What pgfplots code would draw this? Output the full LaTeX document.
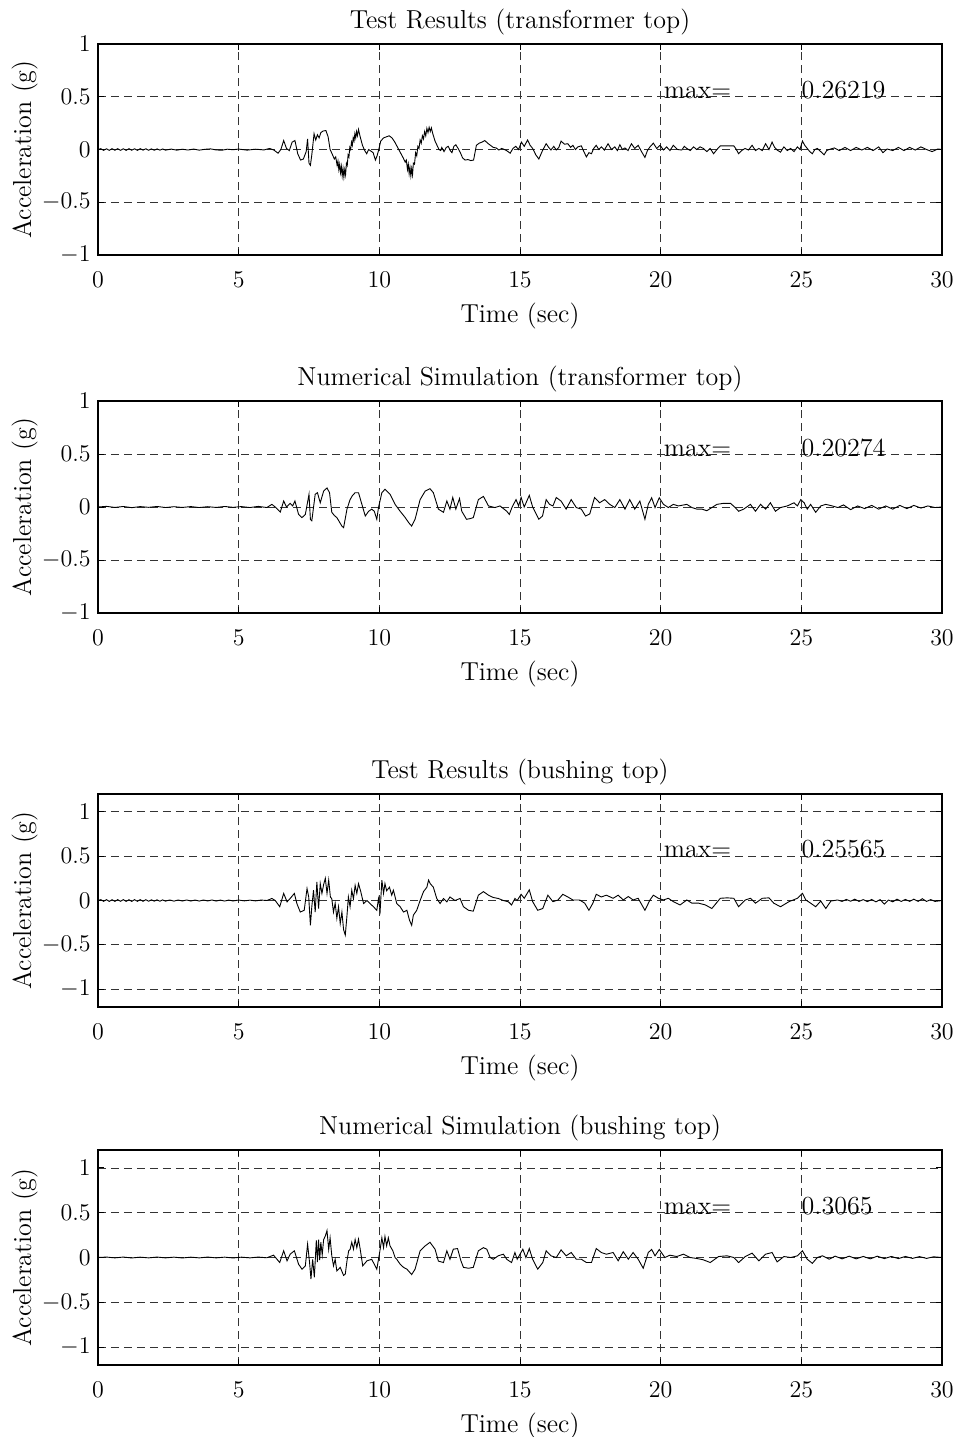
\documentclass[border=0pt]{standalone}
\usepackage{pgfplots}
\pgfplotsset{compat=1.18}
\newcommand{\tf}{\fontsize{13}{15}\selectfont}
\pgfplotsset{
  panel/.style={
    anchor=north west,
    scale only axis,
    width=422pt,
    xmin=0, xmax=30,
    xtick={0,5,10,15,20,25,30},
    ytick={-1,-0.5,0,0.5,1},
    grid=major,
    major grid style={black!80, line width=0.4pt, dash pattern=on 4pt off 2.5pt},
    axis line style={line width=0.7pt},
    tick align=inside,
    major tick length=3pt,
    tick style={black, line width=0.5pt},
    tick label style={font=\tf},
    xticklabel style={anchor=base, yshift=-16pt},
    yticklabel style={anchor=east, inner sep=0pt, xshift=-3.5pt},
    title style={font=\tf, at={(axis description cs:0.5,1)}, anchor=base, yshift=2pt},
    xlabel={Time (sec)},
    ylabel={Acceleration (g)},
    xlabel style={font=\tf, at={(axis description cs:0.5,0)}, anchor=base, yshift=-33.5pt},
    ylabel style={font=\tf, at={(axis description cs:-0.087,0.5)}, anchor=center},
  },
  sig/.style={black, line width=0.45pt, mark=none},
}
\pgfplotstableread{
t a
0.00 0.000
0.10 0.008
0.20 -0.008
0.30 0.007
0.40 -0.008
0.50 0.008
0.60 -0.007
0.70 0.008
0.80 -0.008
0.90 0.007
1.00 -0.008
1.10 0.008
1.20 -0.007
1.30 0.007
1.40 -0.008
1.50 0.008
1.60 -0.006
1.70 0.007
1.80 -0.007
1.90 0.006
2.00 -0.007
2.10 0.006
2.20 -0.006
2.30 0.005
2.40 -0.006
2.60 0.004
2.80 -0.006
3.00 0.003
3.20 -0.005
3.40 0.004
3.60 -0.006
3.80 0.002
4.00 0.006
4.20 -0.004
4.40 -0.007
4.60 0.003
4.80 -0.002
5.00 0.004
5.30 -0.006
5.60 0.003
5.90 -0.004
6.10 0.010
6.25 -0.005
6.40 -0.035
6.50 0.000
6.60 0.085
6.70 0.010
6.80 -0.010
6.90 0.070
7.00 0.085
7.10 -0.040
7.20 -0.100
7.30 -0.090
7.40 -0.020
7.45 0.100
7.50 -0.130
7.55 -0.150
7.60 -0.050
7.68 0.150
7.74 0.090
7.80 0.140
7.86 0.110
7.92 0.160
8.00 0.175
8.10 0.180
8.18 0.120
8.25 0.000
8.32 -0.040
8.40 -0.090
8.45 -0.070
8.50 -0.150
8.53 -0.110
8.56 -0.190
8.59 -0.140
8.62 -0.220
8.65 -0.160
8.68 -0.250
8.71 -0.180
8.74 -0.262
8.77 -0.190
8.80 -0.240
8.83 -0.130
8.86 -0.150
8.89 -0.050
8.92 -0.070
8.95 0.020
8.98 0.000
9.01 0.070
9.04 0.040
9.07 0.110
9.10 0.080
9.13 0.150
9.16 0.110
9.19 0.170
9.22 0.130
9.26 0.190
9.32 0.120
9.40 0.040
9.48 -0.010
9.55 -0.040
9.62 0.000
9.70 -0.015
9.78 -0.030
9.86 -0.100
9.92 -0.060
9.98 0.000
10.05 0.080
10.15 0.110
10.25 0.120
10.35 0.130
10.45 0.110
10.55 0.070
10.65 0.020
10.75 -0.030
10.85 -0.080
10.92 -0.120
10.96 -0.100
11.00 -0.190
11.03 -0.140
11.06 -0.230
11.09 -0.170
11.12 -0.250
11.15 -0.180
11.18 -0.240
11.21 -0.130
11.25 -0.140
11.29 -0.030
11.33 -0.060
11.37 0.030
11.41 0.010
11.45 0.090
11.49 0.060
11.53 0.130
11.57 0.100
11.61 0.170
11.65 0.130
11.69 0.200
11.73 0.160
11.77 0.210
11.81 0.170
11.85 0.205
11.90 0.150
11.98 0.080
12.05 0.040
12.12 0.000
12.18 -0.010
12.22 0.020
12.30 -0.020
12.38 0.020
12.45 0.030
12.52 -0.010
12.58 -0.030
12.65 0.030
12.72 0.045
12.80 0.010
12.88 -0.030
12.96 -0.080
13.05 -0.100
13.15 -0.095
13.25 -0.105
13.35 -0.100
13.45 0.040
13.55 0.060
13.65 0.070
13.75 0.085
13.85 0.060
13.95 0.040
14.05 0.020
14.15 0.015
14.25 -0.005
14.35 0.010
14.45 0.000
14.55 -0.015
14.65 -0.035
14.75 0.010
14.85 0.030
14.95 0.000
15.05 0.070
15.15 0.030
15.27 0.090
15.36 0.040
15.45 0.010
15.56 -0.050
15.67 -0.090
15.80 -0.010
15.93 0.055
16.02 0.020
16.10 -0.005
16.20 0.030
16.29 -0.005
16.38 0.020
16.46 0.080
16.58 0.050
16.70 0.055
16.80 0.020
16.88 0.040
16.97 0.000
17.06 0.025
17.18 0.035
17.27 -0.020
17.36 -0.070
17.45 -0.030
17.54 -0.040
17.62 0.010
17.71 0.040
17.80 0.000
17.89 0.025
18.00 -0.005
18.13 0.055
18.25 0.000
18.37 0.025
18.46 -0.010
18.55 0.045
18.64 0.000
18.73 0.015
18.84 -0.010
18.96 0.055
19.08 0.010
19.20 0.040
19.32 -0.020
19.44 -0.075
19.53 -0.010
19.62 0.025
19.74 0.060
19.86 0.010
19.98 0.040
20.10 -0.005
20.21 0.025
20.33 -0.010
20.45 0.040
20.60 0.000
20.75 -0.005
20.84 0.030
20.93 0.010
21.05 -0.010
21.17 0.025
21.28 0.000
21.40 0.025
21.52 0.010
21.64 -0.020
21.76 0.010
21.88 -0.040
22.00 0.000
22.12 0.035
22.36 0.035
22.60 0.035
22.69 0.000
22.77 -0.040
22.88 -0.010
23.00 0.010
23.12 -0.005
23.25 0.040
23.37 -0.010
23.49 0.010
23.61 -0.010
23.73 0.055
23.85 0.000
23.96 0.070
24.05 0.020
24.14 -0.005
24.26 -0.025
24.38 0.025
24.50 -0.010
24.62 0.010
24.74 -0.020
24.86 0.025
24.95 0.000
25.04 0.080
25.12 0.040
25.21 0.010
25.30 -0.020
25.39 -0.040
25.48 0.000
25.57 0.010
25.69 -0.020
25.81 -0.050
25.90 -0.010
25.99 0.000
26.17 0.015
26.35 -0.010
26.55 0.020
26.75 -0.010
26.95 0.020
27.15 -0.005
27.35 0.020
27.55 -0.010
27.75 0.025
27.90 -0.030
28.05 0.005
28.25 -0.010
28.45 0.020
28.65 -0.010
28.85 0.020
29.05 -0.005
29.25 0.025
29.45 0.000
29.65 -0.020
29.85 0.005
30.00 0.000
}\dataA
\pgfplotstableread{
t a
0.00 0.000
0.30 0.006
0.60 -0.004
0.90 0.005
1.20 -0.006
1.50 0.004
1.80 -0.003
2.10 0.005
2.40 -0.005
2.70 0.003
3.00 -0.004
3.30 0.004
3.60 -0.005
3.90 0.003
4.20 -0.004
4.50 0.005
4.80 -0.003
5.10 0.004
5.40 -0.005
5.70 0.006
6.00 -0.005
6.18 0.025
6.30 0.000
6.48 -0.047
6.60 0.057
6.70 0.000
6.83 0.035
6.92 0.010
7.00 0.057
7.13 -0.070
7.25 -0.100
7.37 -0.070
7.50 0.120
7.55 -0.116
7.60 -0.130
7.72 0.120
7.80 0.135
7.90 0.040
8.02 0.150
8.14 0.180
8.23 0.135
8.31 -0.050
8.40 -0.080
8.49 -0.100
8.58 -0.140
8.67 -0.180
8.73 -0.195
8.85 -0.020
8.96 0.070
9.05 0.110
9.14 0.135
9.26 0.135
9.38 0.025
9.50 -0.085
9.62 -0.040
9.73 -0.020
9.82 -0.040
9.91 -0.116
9.97 -0.005
10.09 0.135
10.20 0.167
10.38 0.120
10.56 0.025
10.74 -0.040
10.92 -0.100
11.05 -0.150
11.15 -0.180
11.27 -0.116
11.45 0.070
11.63 0.150
11.80 0.173
11.92 0.135
12.10 -0.020
12.28 -0.050
12.40 0.057
12.51 -0.020
12.61 0.090
12.72 -0.020
12.85 0.080
12.93 -0.040
13.10 -0.116
13.22 -0.110
13.34 -0.100
13.52 0.070
13.70 0.100
13.88 0.010
14.11 -0.005
14.29 0.010
14.53 -0.040
14.62 -0.070
14.72 0.000
14.86 0.070
14.95 0.010
15.04 0.090
15.15 0.000
15.33 0.110
15.45 0.000
15.67 -0.115
15.80 -0.085
15.93 0.070
16.05 0.025
16.17 0.010
16.29 0.090
16.46 0.056
16.64 -0.020
16.82 0.070
17.00 -0.005
17.18 -0.020
17.33 -0.085
17.48 -0.065
17.65 0.090
17.83 0.040
18.01 0.070
18.19 0.025
18.37 -0.005
18.55 0.070
18.73 -0.020
18.90 0.070
19.08 -0.020
19.26 0.056
19.44 -0.115
19.56 0.025
19.68 0.087
19.80 -0.005
19.95 0.087
20.10 0.025
20.27 -0.005
20.45 0.025
20.63 0.010
20.93 0.025
21.11 -0.005
21.29 -0.020
21.47 -0.020
21.64 -0.035
21.82 -0.005
22.00 0.025
22.24 0.035
22.48 0.035
22.65 -0.005
22.77 -0.040
22.95 -0.020
23.19 0.025
23.37 -0.040
23.55 0.025
23.73 -0.020
23.90 0.040
24.08 -0.040
24.26 -0.005
24.50 0.010
24.74 0.040
24.86 0.010
24.98 0.070
25.10 0.040
25.21 -0.020
25.33 0.025
25.51 -0.050
25.69 0.010
25.87 0.025
26.10 0.010
26.30 -0.005
26.50 0.020
26.75 -0.025
27.00 0.010
27.25 -0.015
27.50 0.015
27.75 -0.020
28.00 0.010
28.25 -0.020
28.50 0.015
28.75 -0.015
29.00 0.015
29.25 -0.010
29.50 0.010
29.75 -0.005
30.00 0.000
}\dataB
\pgfplotstableread{
t a
0.00 0.000
0.10 0.010
0.20 -0.009
0.30 0.010
0.40 -0.010
0.50 0.009
0.60 -0.010
0.70 0.010
0.80 -0.009
0.90 0.010
1.00 -0.010
1.10 0.009
1.20 -0.010
1.30 0.010
1.40 -0.009
1.50 0.010
1.60 -0.009
1.70 0.009
1.80 -0.008
1.90 0.008
2.00 -0.008
2.10 0.008
2.20 -0.008
2.30 0.007
2.40 -0.007
2.55 0.006
2.70 -0.007
2.85 0.006
3.00 -0.006
3.15 0.006
3.30 -0.006
3.45 0.005
3.60 -0.006
3.75 0.006
3.90 -0.005
4.05 0.006
4.20 -0.006
4.35 0.005
4.50 -0.006
4.65 0.005
4.80 -0.005
5.00 0.005
5.20 -0.004
5.40 0.004
5.60 -0.004
5.80 0.005
6.00 0.000
6.10 0.012
6.18 0.023
6.30 0.000
6.46 -0.070
6.60 0.080
6.72 -0.015
6.83 0.023
6.98 0.080
7.07 -0.035
7.19 -0.130
7.33 -0.110
7.43 0.135
7.49 0.040
7.55 -0.280
7.60 -0.070
7.66 0.116
7.72 -0.130
7.78 0.210
7.84 -0.090
7.90 0.190
7.96 0.080
8.02 0.180
8.08 0.250
8.14 0.080
8.20 0.230
8.26 0.040
8.31 0.020
8.37 -0.130
8.43 -0.030
8.49 -0.200
8.55 -0.070
8.61 -0.260
8.67 -0.130
8.73 -0.330
8.79 -0.390
8.85 -0.170
8.90 0.040
8.96 -0.070
9.02 0.116
9.08 0.020
9.14 0.170
9.20 0.080
9.26 0.190
9.34 0.100
9.44 -0.034
9.56 0.000
9.67 -0.034
9.79 -0.070
9.91 -0.110
9.97 0.020
10.03 -0.110
10.09 0.230
10.15 0.080
10.20 0.190
10.26 0.110
10.36 0.150
10.44 0.060
10.50 0.116
10.62 -0.034
10.74 -0.070
10.86 -0.130
10.98 -0.110
11.07 -0.220
11.15 -0.280
11.21 -0.165
11.33 -0.110
11.45 0.000
11.57 0.100
11.69 0.150
11.75 0.230
11.81 0.190
11.92 0.150
12.04 0.023
12.16 -0.034
12.28 0.023
12.40 -0.015
12.51 0.040
12.69 0.000
12.87 0.023
12.99 -0.070
13.17 -0.110
13.34 -0.120
13.52 0.060
13.70 0.100
13.88 0.060
14.05 0.034
14.23 0.023
14.41 0.000
14.59 -0.015
14.70 -0.050
14.82 0.023
14.90 0.000
15.04 0.070
15.15 0.025
15.33 0.120
15.45 -0.013
15.63 -0.110
15.81 -0.090
15.99 0.060
16.17 -0.013
16.35 0.006
16.52 0.070
16.70 0.040
16.88 0.006
17.12 0.006
17.30 -0.030
17.45 -0.110
17.59 -0.030
17.71 0.070
17.89 0.040
18.07 0.060
18.31 0.025
18.49 0.060
18.67 0.006
18.85 0.045
19.02 0.006
19.20 0.025
19.44 -0.110
19.62 0.006
19.74 0.060
19.92 0.025
20.10 0.006
20.27 0.025
20.45 -0.013
20.69 -0.050
20.93 0.006
21.11 -0.030
21.35 -0.030
21.59 -0.050
21.82 -0.090
22.12 0.025
22.36 0.030
22.60 0.025
22.77 -0.070
23.01 0.006
23.19 0.025
23.37 -0.030
23.61 0.025
23.85 0.030
24.02 -0.030
24.26 -0.070
24.56 -0.013
24.86 0.025
25.04 0.080
25.16 0.006
25.33 -0.030
25.51 -0.070
25.69 -0.006
25.87 -0.090
26.05 -0.006
26.29 0.006
26.45 -0.010
26.60 0.012
26.75 -0.008
26.90 0.015
27.05 -0.010
27.20 0.010
27.35 -0.012
27.50 0.012
27.65 -0.015
27.80 0.010
27.95 -0.040
28.10 0.005
28.25 -0.015
28.40 0.015
28.55 -0.010
28.70 0.012
28.85 -0.010
29.00 0.015
29.15 -0.010
29.30 0.020
29.45 -0.010
29.60 0.010
29.75 -0.010
30.00 0.000
}\dataC
\pgfplotstableread{
t a
0.00 0.000
0.30 0.005
0.60 -0.004
0.90 0.005
1.20 -0.005
1.50 0.004
1.80 -0.004
2.10 0.005
2.40 -0.004
2.70 0.004
3.00 -0.005
3.30 0.004
3.60 -0.004
3.90 0.005
4.20 -0.004
4.50 0.004
4.80 -0.005
5.10 0.004
5.40 -0.004
5.70 0.005
6.00 -0.003
6.24 0.026
6.46 -0.056
6.60 0.075
6.72 -0.037
6.83 0.037
6.98 0.075
7.13 -0.075
7.25 -0.130
7.37 -0.093
7.45 0.150
7.52 -0.056
7.57 -0.240
7.63 -0.020
7.69 -0.220
7.76 0.190
7.80 -0.050
7.84 0.200
7.88 -0.030
7.92 0.170
7.97 0.030
8.02 0.200
8.08 0.240
8.14 0.300
8.20 0.090
8.25 0.220
8.31 0.020
8.37 -0.093
8.43 -0.020
8.49 -0.150
8.61 -0.110
8.73 -0.200
8.79 -0.185
8.85 -0.037
8.91 0.075
8.96 0.090
9.02 0.170
9.08 0.093
9.14 0.200
9.20 0.110
9.26 0.205
9.32 0.093
9.41 -0.093
9.56 -0.037
9.73 -0.020
9.91 -0.130
9.97 -0.020
10.03 0.093
10.09 0.220
10.15 0.110
10.20 0.235
10.26 0.130
10.32 0.220
10.38 0.130
10.48 0.075
10.56 0.000
10.62 -0.020
10.74 -0.075
10.86 -0.110
10.98 -0.130
11.15 -0.190
11.27 -0.130
11.45 0.075
11.63 0.130
11.80 0.170
11.98 0.093
12.10 -0.040
12.28 -0.056
12.40 0.075
12.51 -0.020
12.63 0.093
12.78 0.100
12.90 -0.037
12.99 -0.110
13.17 -0.120
13.34 -0.110
13.52 0.075
13.70 0.110
13.82 0.093
13.94 0.000
14.05 -0.020
14.23 0.020
14.41 0.037
14.53 -0.020
14.70 -0.056
14.82 0.056
14.90 -0.020
15.10 0.093
15.21 0.000
15.33 0.100
15.45 -0.020
15.63 -0.130
15.81 -0.056
15.93 0.075
16.10 0.019
16.29 0.000
16.46 0.085
16.64 0.019
16.82 0.056
17.00 -0.019
17.18 -0.019
17.36 -0.056
17.54 -0.056
17.71 0.100
17.89 0.056
18.07 0.037
18.31 0.056
18.49 -0.037
18.67 0.065
18.85 -0.019
19.02 0.056
19.20 -0.019
19.38 -0.120
19.56 0.056
19.68 0.090
19.80 0.019
19.95 0.090
20.15 0.000
20.33 0.026
20.57 0.011
20.81 0.037
21.05 0.000
21.29 -0.011
21.52 -0.026
21.76 -0.056
22.06 0.011
22.36 0.019
22.60 0.000
22.77 -0.056
23.01 0.011
23.25 0.049
23.49 -0.037
23.73 0.037
23.96 0.056
24.14 -0.049
24.38 0.011
24.62 0.000
24.86 0.019
25.04 0.075
25.21 -0.019
25.39 -0.065
25.57 0.000
25.75 0.019
25.99 -0.019
26.20 0.015
26.45 -0.015
26.70 0.015
26.95 -0.015
27.20 0.012
27.45 -0.015
27.70 0.015
27.95 -0.012
28.20 0.012
28.45 -0.012
28.70 0.012
28.95 -0.010
29.20 0.010
29.45 -0.010
29.70 0.008
30.00 0.000
}\dataD
\begin{document}
\begin{tikzpicture}[x=1pt,y=1pt]
\path[use as bounding box] (0,0) rectangle (481.5,-718.5);
\begin{axis}[panel, at={(49pt,-22pt)}, height=105.5pt, ymin=-1, ymax=1,
  title={Test Results (transformer top)}]
\addplot[sig] table[x=t,y=a] {\dataA};
\node[anchor=base west, inner sep=0pt, font=\tf] at (axis cs:20.1,0.48) {max=};
\node[anchor=base west, inner sep=0pt, font=\tf] at (axis cs:25.0,0.48) {0.26219};
\end{axis}
\begin{axis}[panel, at={(49pt,-200.5pt)}, height=106pt, ymin=-1, ymax=1,
  title={Numerical Simulation (transformer top)}]
\addplot[sig] table[x=t,y=a] {\dataB};
\node[anchor=base west, inner sep=0pt, font=\tf] at (axis cs:20.1,0.48) {max=};
\node[anchor=base west, inner sep=0pt, font=\tf] at (axis cs:25.0,0.48) {0.20274};
\end{axis}
\begin{axis}[panel, at={(49pt,-397pt)}, height=106.5pt, ymin=-1.2, ymax=1.2,
  title={Test Results (bushing top)}]
\addplot[sig] table[x=t,y=a] {\dataC};
\node[anchor=base west, inner sep=0pt, font=\tf] at (axis cs:20.1,0.48) {max=};
\node[anchor=base west, inner sep=0pt, font=\tf] at (axis cs:25.0,0.48) {0.25565};
\end{axis}
\begin{axis}[panel, at={(49pt,-575pt)}, height=107.5pt, ymin=-1.2, ymax=1.2,
  title={Numerical Simulation (bushing top)}]
\addplot[sig] table[x=t,y=a] {\dataD};
\node[anchor=base west, inner sep=0pt, font=\tf] at (axis cs:20.1,0.48) {max=};
\node[anchor=base west, inner sep=0pt, font=\tf] at (axis cs:25.0,0.48) {0.3065};
\end{axis}
\end{tikzpicture}
\end{document}
